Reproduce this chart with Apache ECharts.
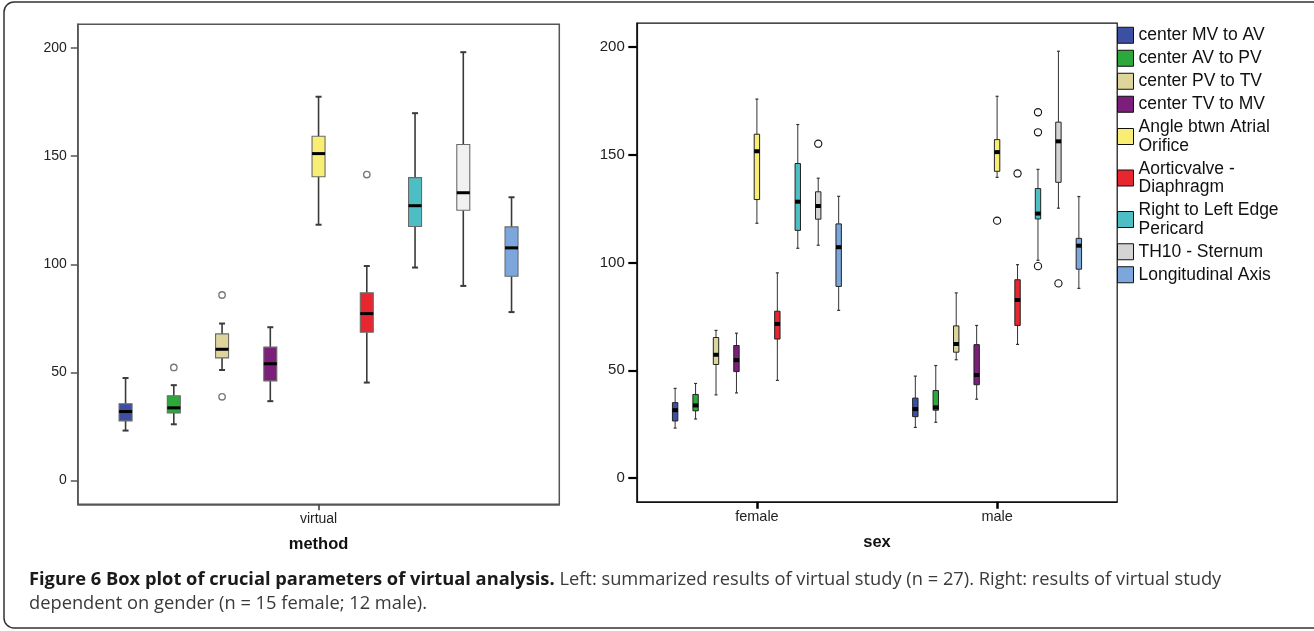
<!DOCTYPE html>
<html>
<head>
<meta charset="utf-8">
<script src="https://cdn.jsdelivr.net/npm/echarts@6/dist/echarts.min.js"></script>
<style>html,body{margin:0;padding:0;background:#fff}#c{width:1314px;height:631px}</style>
</head>
<body>
<div id="c"></div>
<script>
// ---------- data ----------
const paramNames = [
  'center MV to AV', 'center AV to PV', 'center PV to TV', 'center TV to MV',
  'Angle btwn Atrial\nOrifice', 'Aorticvalve -\nDiaphragm', 'Right to Left Edge\nPericard',
  'TH10 - Sternum', 'Longitudinal Axis'
];
const methodCategories = ['virtual'];
const sexCategories = ['female', 'male'];
const yTickValues = [0, 50, 100, 150, 200];

// [min, Q1, median, Q3, max]
const virtualStats = [
  [23.1, 27.6, 31.9, 35.5, 47.4],
  [26.0, 31.2, 33.6, 39.2, 44.1],
  [51.1, 56.7, 60.7, 67.8, 72.6],
  [36.7, 46.1, 54.0, 61.7, 70.9],
  [118.3, 140.5, 151.2, 159.2, 177.5],
  [45.3, 68.6, 77.2, 86.8, 99.2],
  [98.5, 117.5, 127.1, 140.1, 169.9],
  [90.0, 125.0, 133.1, 155.4, 198.1],
  [77.9, 94.5, 107.6, 117.3, 131.0]
];
const femaleStats = [
  [23.2, 26.5, 31.5, 35.0, 41.6],
  [27.4, 31.2, 33.7, 38.8, 43.9],
  [38.6, 52.7, 57.2, 65.2, 68.5],
  [39.5, 49.4, 54.7, 61.5, 67.2],
  [118.2, 129.2, 151.6, 159.5, 175.8],
  [45.3, 64.5, 71.5, 77.4, 95.2],
  [106.6, 114.9, 128.2, 145.9, 164.0],
  [108.0, 120.1, 126.2, 132.8, 139.1],
  [77.8, 88.9, 107.1, 117.9, 130.7]
];
const maleStats = [
  [23.5, 28.5, 32.0, 37.1, 47.3],
  [25.9, 31.5, 32.8, 40.6, 52.2],
  [54.9, 58.4, 62.2, 70.6, 85.9],
  [36.6, 43.3, 47.8, 61.9, 70.8],
  [139.5, 142.3, 151.2, 157.0, 177.1],
  [62.0, 70.8, 82.6, 92.0, 99.0],
  [101.0, 120.2, 122.7, 134.3, 143.2],
  [125.2, 137.2, 156.2, 165.1, 198.0],
  [88.0, 96.9, 107.8, 111.2, 130.6]
];
// [parameter index, value]
const virtualOutliers = [[1, 52.3], [2, 85.8], [2, 38.7], [5, 141.5]];
const femaleOutliers = [[7, 155.1]];
const maleOutliers = [[4, 119.4], [5, 141.3], [6, 169.7], [6, 160.4], [6, 98.3], [7, 90.3]];

// ---------- styles ----------
const colorsVirtual = ['#3c4fa2', '#2da83a', '#ded59b', '#7b1f7b', '#f8ee74', '#e8262f', '#4dbfc4', '#f1f1f1', '#7ba7dc'];
const colorsSex = ['#3c4fa2', '#2da83a', '#ded59b', '#7b1f7b', '#f8ee74', '#e8262f', '#4dbfc4', '#d4d4d4', '#7ba7dc'];
const FONT = '"Liberation Sans", Arial, Helvetica, sans-serif';
const CAPTION_FONT = '"Open Sans", sans-serif';

const styleVirtual = {
  spacing: 0.1002, boxWidth: 13, capWidth: 6, medianThick: 3,
  whisker: '#3a3a3a', whiskerWidth: 1.6, capLineWidth: 2,
  boxStroke: '#6a6a6a', boxLineWidth: 1.1,
  outR: 3.2, outStroke: '#7a7a7a', outWidth: 1.4
};
const styleSex = {
  spacing: 0.0851, boxWidth: 5.4, capWidth: 3, medianThick: 4,
  whisker: '#333', whiskerWidth: 1, capLineWidth: 1.2,
  boxStroke: '#222', boxLineWidth: 1,
  outR: 3.6, outStroke: '#111', outWidth: 1.1
};

function boxRender(k, st) {
  return function (params, api) {
    const cat = api.value(0);
    const band = api.size([1, 0])[0];
    const cx = api.coord([cat, 0])[0] + (k - 4) * st.spacing * band;
    const y = function (i) { return api.coord([cat, api.value(i)])[1]; };
    const yMin = y(1), yQ1 = y(2), yMed = y(3), yQ3 = y(4), yMax = y(5);
    const hw = st.boxWidth / 2, cw = st.capWidth / 2;
    const ws = { stroke: st.whisker, lineWidth: st.whiskerWidth };
    const cs = { stroke: st.whisker, lineWidth: st.capLineWidth };
    return {
      type: 'group',
      children: [
        { type: 'line', shape: { x1: cx, y1: yQ3, x2: cx, y2: yMax }, style: ws },
        { type: 'line', shape: { x1: cx, y1: yQ1, x2: cx, y2: yMin }, style: ws },
        { type: 'line', shape: { x1: cx - cw, y1: yMax, x2: cx + cw, y2: yMax }, style: cs },
        { type: 'line', shape: { x1: cx - cw, y1: yMin, x2: cx + cw, y2: yMin }, style: cs },
        { type: 'rect', shape: { x: cx - hw, y: yQ3, width: 2 * hw, height: yQ1 - yQ3 },
          style: { fill: api.visual('color'), stroke: st.boxStroke, lineWidth: st.boxLineWidth } },
        { type: 'rect', shape: { x: cx - hw, y: yMed - st.medianThick / 2, width: 2 * hw, height: st.medianThick },
          style: { fill: '#000' } }
      ]
    };
  };
}

function outlierRender(st) {
  return function (params, api) {
    const cat = api.value(0), k = api.value(1);
    const band = api.size([1, 0])[0];
    const c = api.coord([cat, api.value(2)]);
    return {
      type: 'circle',
      shape: { cx: c[0] + (k - 4) * st.spacing * band, cy: c[1], r: st.outR },
      style: { fill: '#fff', stroke: st.outStroke, lineWidth: st.outWidth }
    };
  };
}

const series = [];
// right panel first so that the legend takes its colours
paramNames.forEach(function (name, k) {
  series.push({
    type: 'custom', name: name, xAxisIndex: 1, yAxisIndex: 1,
    itemStyle: { color: colorsSex[k] },
    encode: { x: 0, y: [1, 2, 3, 4, 5] },
    data: [[0].concat(femaleStats[k]), [1].concat(maleStats[k])],
    renderItem: boxRender(k, styleSex)
  });
});
paramNames.forEach(function (name, k) {
  series.push({
    type: 'custom', name: name, xAxisIndex: 0, yAxisIndex: 0,
    itemStyle: { color: colorsVirtual[k] },
    encode: { x: 0, y: [1, 2, 3, 4, 5] },
    data: [[0].concat(virtualStats[k])],
    renderItem: boxRender(k, styleVirtual)
  });
});
series.push({
  type: 'custom', name: 'outliers virtual', xAxisIndex: 0, yAxisIndex: 0,
  encode: { x: 0, y: 2 },
  data: virtualOutliers.map(function (o) { return [0, o[0], o[1]]; }),
  renderItem: outlierRender(styleVirtual)
});
series.push({
  type: 'custom', name: 'outliers sex', xAxisIndex: 1, yAxisIndex: 1,
  encode: { x: 0, y: 2 },
  data: femaleOutliers.map(function (o) { return [0, o[0], o[1]]; })
    .concat(maleOutliers.map(function (o) { return [1, o[0], o[1]]; })),
  renderItem: outlierRender(styleSex)
});

const chart = echarts.init(document.getElementById('c'), null, { renderer: 'canvas' });
chart.setOption({
  animation: false,
  backgroundColor: '#fff',
  textStyle: { fontFamily: FONT },
  grid: [
    { left: 77.8, top: 24.3, width: 481.5, height: 480, show: true, borderColor: '#555', borderWidth: 1.5, backgroundColor: 'transparent' },
    { left: 636.8, top: 23.2, width: 480.4, height: 478.6, show: true, borderColor: '#111', borderWidth: 1.2, backgroundColor: 'transparent' }
  ],
  xAxis: [
    {
      gridIndex: 0, type: 'category', data: methodCategories,
      axisLine: { show: true, onZero: false, lineStyle: { color: '#555', width: 1.5 } },
      axisTick: { show: true, alignWithLabel: true, length: 6, lineStyle: { color: '#444', width: 1.6 } },
      axisLabel: { fontFamily: FONT, fontSize: 14, color: '#222', margin: 8 },
      splitLine: { show: false },
      name: 'method', nameLocation: 'middle', nameGap: 32,
      nameTextStyle: { fontFamily: FONT, fontWeight: 'bold', fontSize: 16.5, color: '#111' }
    },
    {
      gridIndex: 1, type: 'category', data: sexCategories,
      axisLine: { show: true, onZero: false, lineStyle: { color: '#111', width: 1.2 } },
      axisTick: { show: true, alignWithLabel: true, length: 7, lineStyle: { color: '#000', width: 2.5 } },
      axisLabel: { fontFamily: FONT, fontSize: 14.5, color: '#222', margin: 8 },
      splitLine: { show: false },
      name: 'sex', nameLocation: 'middle', nameGap: 32,
      nameTextStyle: { fontFamily: FONT, fontWeight: 'bold', fontSize: 16.5, color: '#111' }
    }
  ],
  yAxis: [
    {
      gridIndex: 0, type: 'value', min: -11, max: 211,
      axisLine: { show: true, onZero: false, lineStyle: { color: '#555', width: 1.5 } },
      axisTick: { show: true, length: 7, customValues: yTickValues, lineStyle: { color: '#555', width: 1.5 } },
      axisLabel: { customValues: yTickValues, fontFamily: FONT, fontSize: 14, color: '#222', margin: 11 },
      splitLine: { show: false }
    },
    {
      gridIndex: 1, type: 'value', min: -11, max: 211,
      axisLine: { show: true, onZero: false, lineStyle: { color: '#111', width: 1.2 } },
      axisTick: { show: true, length: 8.5, customValues: yTickValues, lineStyle: { color: '#000', width: 2.2 } },
      axisLabel: { customValues: yTickValues, fontFamily: FONT, fontSize: 15, color: '#222', margin: 12 },
      splitLine: { show: false }
    }
  ],
  legend: {
    data: paramNames, orient: 'vertical', left: 1117, top: 26, padding: 0,
    icon: 'rect', itemWidth: 16, itemHeight: 16, itemGap: 4.5, selectedMode: false,
    itemStyle: { borderColor: '#111', borderWidth: 1 },
    textStyle: { fontFamily: FONT, fontSize: 17.5, lineHeight: 18.5, color: '#111' }
  },
  graphic: [
    { type: 'rect', silent: true, z: -10, shape: { x: 4, y: 2, width: 1345, height: 626, r: 10 },
      style: { fill: 'none', stroke: '#333', lineWidth: 1.5 } },
    { type: 'text', x: 29, y: 580, silent: true,
      style: {
        text: '{b|Figure 6 Box plot of crucial parameters of virtual analysis.} {n|Left: summarized results of virtual study (n = 27). Right: results of virtual study}',
        verticalAlign: 'middle',
        rich: {
          b: { fontFamily: CAPTION_FONT, fontWeight: 'bold', fontSize: 18.3, fill: '#1a1a1a' },
          n: { fontFamily: CAPTION_FONT, fontSize: 18.3, fill: '#3a3a3a' }
        },
        fontFamily: CAPTION_FONT, fontSize: 18.3, fill: '#3a3a3a'
      } },
    { type: 'text', x: 29, y: 604, silent: true,
      style: {
        text: 'dependent on gender (n = 15 female; 12 male).', verticalAlign: 'middle',
        fontFamily: CAPTION_FONT, fontSize: 18.3, fill: '#3a3a3a'
      } }
  ],
  series: series
});
</script>
</body>
</html>
